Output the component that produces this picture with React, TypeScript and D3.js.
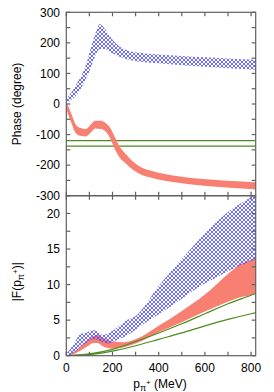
import React, { useEffect, useRef } from "react";
import * as d3 from "d3";

// top panel: phases (degree)
const phaseBlueP = [0, 20, 45, 70, 90, 110, 130, 145, 165, 190, 220, 260, 300, 400, 500, 600, 700, 820];
const phaseBlueHi = [18, 35, 67, 100, 140, 195, 240, 262, 248, 220, 195, 177, 169, 162, 157, 153, 149, 145];
const phaseBlueLo = [0, 12, 30, 60, 90, 125, 165, 180, 180, 170, 158, 147, 140, 133, 127, 122, 117, 112];

const phaseRedP = [0, 20, 40, 60, 85, 105, 125, 150, 170, 190, 210, 230, 260, 290, 320, 360, 420, 500, 565, 650, 740, 820];
const phaseRedHi = [8, -28, -66, -78, -82, -68, -55, -55, -62, -78, -108, -138, -165, -189, -205, -217, -228, -238, -244, -249, -253, -256];
const phaseRedLo = [-18, -58, -94, -104, -106, -94, -80, -82, -90, -112, -148, -174, -196, -216, -230, -240, -250, -259, -265, -271, -276, -280];

const phaseGreen = [-120, -138];

// bottom panel: |F|
const absBlueP = [0, 30, 60, 90, 115, 140, 160, 200, 260, 300, 400, 500, 600, 700, 800, 820];
const absBlueHi = [0.3, 1.5, 3.0, 3.3, 3.6, 3.3, 2.9, 3.5, 5.0, 5.6, 9.8, 13.6, 17.2, 20.2, 22.3, 22.7];
const absBlueLoP = [0, 30, 60, 90, 120, 150, 180, 220, 276, 350, 420, 500, 565, 650, 709, 800, 820];
const absBlueLo = [0, 0.3, 1.2, 1.9, 2.3, 2.0, 1.7, 2.2, 3.1, 4.8, 6.2, 8.0, 9.5, 11.0, 12.0, 13.3, 13.6];

const absRedP = [0, 30, 60, 90, 120, 135, 160, 200, 250, 300, 400, 500, 600, 700, 750, 800, 820];
const absRedHi = [0, 0.5, 1.3, 2.1, 2.8, 2.9, 2.5, 2.0, 1.9, 2.3, 4.2, 6.3, 8.6, 11.5, 12.8, 13.5, 13.8];
const absRedLo = [0, 0.2, 0.7, 1.3, 1.8, 1.8, 1.3, 1.0, 1.2, 1.7, 3.3, 4.7, 6.2, 7.6, 8.2, 8.55, 8.75];

const greenP = [0, 100, 200, 300, 400, 500, 600, 700, 800, 820];
const greenA = [0, 0.25, 0.9, 2.0, 3.2, 4.5, 5.9, 7.3, 8.5, 8.75];
const greenB = [0, 0.15, 0.65, 1.4, 2.3, 3.2, 4.2, 5.1, 5.9, 6.05];

const xTicks = [0, 100, 200, 300, 400, 500, 600, 700, 800];
const xLabels = [0, 200, 400, 600, 800];
const phaseTicks = d3.range(-300, 301, 50);
const phaseLabels = [-300, -200, -100, 0, 100, 200, 300];
const absTicks = d3.range(0, 22.6, 2.5);
const absLabels = [0, 5, 10, 15, 20];

const W = 274, H = 392;
const L = 66.3, R = 255.7;
const T1 = 12.3, B1 = 195.7, B2 = 355.7;

const RED = "#f88072";
const GREEN = "#4e8c1e";
const AXIS = "#606060";
const FONT = "'Liberation Sans', Arial, sans-serif";

const App = () => {
    const svgRef = useRef(null);

    useEffect(() => {
        const svg = d3.select(svgRef.current)
            .attr("width", W)
            .attr("height", H);
        svg.selectAll("*").remove();

        const x = d3.scaleLinear().domain([0, 820]).range([L, R]);
        const y1 = d3.scaleLinear().domain([-300, 300]).range([B1, T1]);
        const y2 = d3.scaleLinear().domain([0, 22.5]).range([B2, B1]);

        const defs = svg.append("defs");
        const pat = defs.append("pattern")
            .attr("id", "xhatch")
            .attr("patternUnits", "userSpaceOnUse")
            .attr("width", 4).attr("height", 4);
        pat.append("path").attr("d", "M0,0L4,4M0,4L4,0")
            .attr("stroke", "#4848ff").attr("stroke-width", 0.8).attr("fill", "none");
        defs.append("clipPath").attr("id", "c1").append("rect")
            .attr("x", L).attr("y", T1).attr("width", R - L).attr("height", B1 - T1);
        defs.append("clipPath").attr("id", "c2").append("rect")
            .attr("x", L).attr("y", B1).attr("width", R - L).attr("height", B2 - B1);

        // closed band: upper edge left->right, lower edge right->left
        const areaPath = (ps, hi, lo, ys, loPs?) => {
            const lp = loPs || ps;
            const line = d3.line().curve(d3.curveMonotoneX);
            const upper = line(ps.map((p, i) => [x(p), ys(hi[i])]));
            const lower = d3.line().curve(d3.curveMonotoneX)(lp.map((p, i) => [x(p), ys(lo[i])]).reverse());
            return upper + "L" + lower.slice(1) + "Z";
        };

        const g1 = svg.append("g").attr("clip-path", "url(#c1)");
        g1.append("path")
            .attr("d", areaPath(phaseBlueP, phaseBlueHi, phaseBlueLo, y1))
            .attr("fill", "url(#xhatch)");
        g1.selectAll("line.gr").data(phaseGreen).enter().append("line")
            .attr("x1", L).attr("x2", R)
            .attr("y1", d => y1(d)).attr("y2", d => y1(d))
            .attr("stroke", GREEN).attr("stroke-width", 1.2);
        g1.append("path")
            .attr("d", areaPath(phaseRedP, phaseRedHi, phaseRedLo, y1))
            .attr("fill", RED);

        const g2 = svg.append("g").attr("clip-path", "url(#c2)");
        g2.append("path")
            .attr("d", areaPath(absRedP, absRedHi, absRedLo, y2))
            .attr("fill", RED);
        g2.append("path")
            .attr("d", areaPath(absBlueP, absBlueHi, absBlueLo, y2, absBlueLoP))
            .attr("fill", "url(#xhatch)");
        [greenA, greenB].forEach(s => {
            g2.append("path")
                .attr("d", d3.line().curve(d3.curveMonotoneX)(greenP.map((p, i) => [x(p), y2(s[i])])))
                .attr("fill", "none").attr("stroke", GREEN).attr("stroke-width", 1.2);
        });

        // frames and ticks
        const ax = svg.append("g").attr("stroke", AXIS).attr("fill", "none").attr("stroke-width", 1.2);
        const tk = 4;
        const drawFrame = (ys, top, bottom, ticks) => {
            ax.append("rect").attr("x", L).attr("y", top).attr("width", R - L).attr("height", bottom - top);
            xTicks.forEach(t => {
                ax.append("line").attr("x1", x(t)).attr("x2", x(t)).attr("y1", bottom).attr("y2", bottom - tk);
                ax.append("line").attr("x1", x(t)).attr("x2", x(t)).attr("y1", top).attr("y2", top + tk);
            });
            ticks.forEach(t => {
                ax.append("line").attr("x1", L).attr("x2", L + tk).attr("y1", ys(t)).attr("y2", ys(t));
                ax.append("line").attr("x1", R).attr("x2", R - tk).attr("y1", ys(t)).attr("y2", ys(t));
            });
        };
        drawFrame(y1, T1, B1, phaseTicks);
        drawFrame(y2, B1, B2, absTicks);

        const txt = svg.append("g").attr("font-family", FONT).attr("font-size", 12).attr("fill", "#000");
        phaseLabels.forEach(v => {
            txt.append("text").attr("x", 60).attr("y", y1(v)).attr("dy", "0.36em")
                .attr("text-anchor", "end").text(v);
        });
        absLabels.forEach(v => {
            txt.append("text").attr("x", 60).attr("y", y2(v)).attr("dy", "0.36em")
                .attr("text-anchor", "end").text(v);
        });
        xLabels.forEach(v => {
            txt.append("text").attr("x", x(v)).attr("y", 372)
                .attr("text-anchor", "middle").text(v);
        });

        txt.append("text")
            .attr("transform", `translate(21,${(T1 + B1) / 2}) rotate(-90)`)
            .attr("text-anchor", "middle").text("Phase (degree)");

        const fl = txt.append("text")
            .attr("transform", `translate(21,${(B1 + B2) / 2 + 6}) rotate(-90)`)
            .attr("text-anchor", "middle");
        fl.append("tspan").text("|F(p");
        fl.append("tspan").attr("font-size", 9).attr("dy", 3).text("π");
        fl.append("tspan").attr("font-size", 8).attr("dy", -6).text("+");
        fl.append("tspan").attr("dy", 3).text(")|");

        const xl = txt.append("text").attr("x", 160).attr("y", 388).attr("text-anchor", "middle");
        xl.append("tspan").text("p");
        xl.append("tspan").attr("font-size", 9).attr("dy", 3).text("π");
        xl.append("tspan").attr("font-size", 8).attr("dy", -6).text("+");
        xl.append("tspan").attr("dy", 3).text(" (MeV)");
    }, []);

    return <svg ref={svgRef} style={{ position: "absolute", left: 0, top: 0 }}></svg>;
};

export default App;
